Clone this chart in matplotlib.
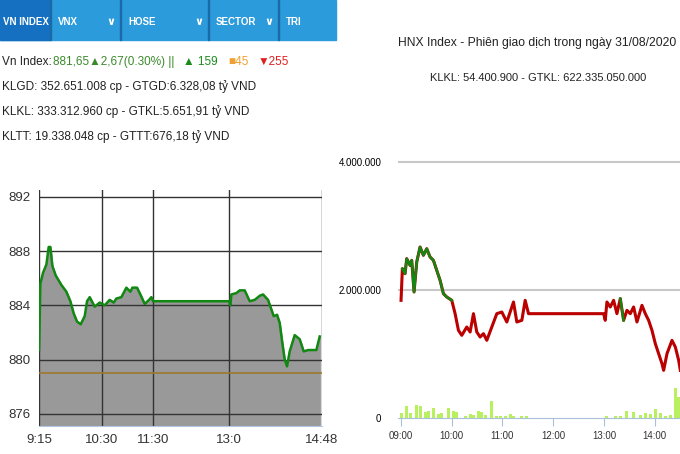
import numpy as np
import matplotlib
matplotlib.use("Agg")
import matplotlib.pyplot as plt
from matplotlib.patches import Rectangle

plt.rcParams['font.family'] = ['Liberation Sans', 'DejaVu Sans']

# ---------- data: VN Index (left), read as (pixel x, value) ----------
vn_zx = [118, 122, 130, 140, 147, 152, 158, 168, 185, 200, 212, 222, 232, 243, 255, 262, 270, 285, 300, 315, 330, 342, 350, 365,
         380, 392, 398, 412, 422, 435, 448, 455, 460, 688, 692, 695, 710, 720, 735, 750, 765, 780, 790, 805, 815, 822, 832, 840,
         848, 855, 862, 870, 885, 900, 912, 925, 950, 960]
vn_val = [880.7, 885.6, 886.4, 887.0, 888.3, 888.3, 886.9, 886.2, 885.5, 885.0, 884.3, 883.4, 882.8, 882.6, 883.2, 884.3, 884.6,
          883.9, 884.2, 884.0, 884.4, 884.2, 884.5, 884.6, 885.3, 885.0, 885.3, 885.3, 884.8, 884.1, 884.4, 884.6, 884.3, 884.3,
          884.0, 884.8, 884.9, 885.1, 885.1, 884.3, 884.4, 884.7, 884.8, 884.4, 883.7, 883.2, 883.3, 882.7, 881.2, 880.0, 879.5,
          880.6, 881.8, 881.5, 880.6, 880.7, 880.7, 881.7]
vn_pos = [x / 3 - 39.3 for x in vn_zx]
vn_ref = 879.0
vn_tick_pos = [0, 63, 114, 190, 283]
vn_tick_lbl = ["9:15", "10:30", "11:30", "13:0", "14:48"]
vn_yticks = [876, 880, 884, 888, 892]

# ---------- data: HNX (right) ----------
hnx_zx = [183, 187, 195, 200, 210, 215, 222, 230, 240, 250, 260, 270, 280, 290, 300, 310, 320, 335, 345, 355, 365, 380, 390, 400,
          410, 420, 430, 440, 455, 470, 485, 500, 510, 520, 530, 545, 555, 565, 790, 795, 800, 810, 820, 830, 840, 850, 860, 870,
          880, 890, 905, 915, 925, 935, 945, 955, 965, 970, 980, 995, 1005, 1015, 1020]
hnx_zy = [480, 385, 400, 355, 375, 360, 455, 365, 320, 345, 325, 350, 360, 390, 420, 460, 470, 480, 520, 570, 585, 560, 575, 520,
          575, 590, 580, 600, 560, 520, 515, 545, 515, 485, 545, 540, 480, 520, 520, 540, 485, 500, 480, 520, 475, 540, 510, 520,
          500, 545, 495, 520, 540, 570, 610, 640, 670, 690, 640, 600, 620, 660, 690]
hnx_t = [9 + (x - 183) / 152 for x in hnx_zx]
hnx_v = [(833 - y) / 192 * 1e6 for y in hnx_zy]
hnx_ref = 1.84e6
vol_zx = [185, 200, 212, 230, 240, 255, 265, 280, 295, 305, 325, 340, 350, 375, 390, 400, 415, 425, 435, 455, 470, 480, 495, 510,
          520, 545, 560, 800, 825, 840, 860, 880, 900, 915, 930, 945, 960, 975, 990, 1005, 1015]
vol_zy = [818, 797, 818, 793, 797, 815, 813, 803, 820, 818, 803, 812, 815, 828, 820, 823, 813, 815, 823, 783, 828, 826, 828, 820,
          828, 828, 828, 828, 828, 826, 813, 815, 823, 818, 820, 807, 818, 826, 823, 743, 770]
vol_t = [9 + (x - 183) / 152 for x in vol_zx]
vol_v = [(833 - y) / 192 * 1e6 for y in vol_zy]
hnx_xticks = [9, 10, 11, 12, 13, 14]
hnx_xlbl = ["09:00", "10:00", "11:00", "12:00", "13:00", "14:00"]
hnx_yticks = [0, 2e6, 4e6]
hnx_ylbl = ["0", "2.000.000", "4.000.000"]

W, H = 680, 454
fig = plt.figure(figsize=(6.8, 4.54), dpi=100)
fig.patch.set_facecolor("white")

def fx(px): return px / W
def fy(py): return 1 - py / H

# header bar
fig.patches.append(Rectangle((0, fy(40)), fx(336), 40 / H, transform=fig.transFigure, color="#2b9bdb", zorder=0))
fig.patches.append(Rectangle((0, fy(40)), fx(50), 40 / H, transform=fig.transFigure, color="#1670c2", zorder=1))
for sx in [50, 120, 208, 278]:
    fig.patches.append(Rectangle((fx(sx), fy(40)), fx(1), 40 / H, transform=fig.transFigure, color="#1a6aa8", zorder=2))
for tx, lbl in [(3, "VN INDEX"), (58, "VNX"), (128, "HOSE"), (216, "SECTOR"), (286, "TRI")]:
    fig.text(fx(tx), fy(22), lbl, color="white", fontsize=7, fontweight="bold", va="center")
for tx in [106, 194, 264]:
    fig.text(fx(tx), fy(22), "∨", color="white", fontsize=8, fontweight="bold", va="center", family="DejaVu Sans")

fs = 8.5
fam = ['Liberation Sans', 'DejaVu Sans']
fig.text(fx(2), fy(62), "Vn Index:", fontsize=fs, va="center", color="#222")
fig.text(fx(53), fy(62), "881,65▲2,67(0.30%) ||", fontsize=fs, va="center", color="#3a8a2a", family=fam)
fig.text(fx(183), fy(62), "▲ 159", fontsize=fs, va="center", color="#1a8a1a", family=fam)
fig.text(fx(228), fy(62), "■45", fontsize=fs, va="center", color="#f0a030", family=fam)
fig.text(fx(258), fy(62), "▼255", fontsize=fs, va="center", color="#e02020", family=fam)
fig.text(fx(2), fy(87), "KLGD: 352.651.008 cp - GTGD:6.328,08 tỷ VND", fontsize=fs, va="center", color="#222")
fig.text(fx(2), fy(112), "KLKL: 333.312.960 cp - GTKL:5.651,91 tỷ VND", fontsize=fs, va="center", color="#222")
fig.text(fx(2), fy(137), "KLTT: 19.338.048 cp - GTTT:676,18 tỷ VND", fontsize=fs, va="center", color="#222")

# left chart
axL = fig.add_axes([fx(39), fy(426), fx(322 - 39), (426 - 190) / H])
axL.set_facecolor("white")
axL.set_xlim(0, 283)
axL.set_ylim(875.1, 892.5)
axL.fill_between(vn_pos, vn_val, 875.1, color="#999999", zorder=1)
for yv in vn_yticks:
    axL.axhline(yv, color="#333333", lw=1, zorder=2)
for xv in vn_tick_pos:
    axL.axvline(xv, color="#333333", lw=1, zorder=2)
axL.axhline(vn_ref, color="#a07830", lw=1.2, zorder=3)
axL.plot(vn_pos, vn_val, color="#118811", lw=1.8, zorder=4)
axL.set_xticks(vn_tick_pos, vn_tick_lbl)
axL.set_yticks(vn_yticks)
for s in axL.spines.values():
    s.set_visible(False)
axL.spines["bottom"].set_visible(True)
axL.spines["bottom"].set_color("#b0c8e0")
axL.tick_params(length=0, labelsize=9.5, colors="#333", pad=6)

# right chart
fig.text(fx(537), fy(43), "HNX Index - Phiên giao dịch trong ngày 31/08/2020", fontsize=8.7, ha="center", va="center", color="#222")
fig.text(fx(538), fy(78), "KLKL: 54.400.900 - GTKL: 622.335.050.000", fontsize=8, ha="center", va="center", color="#222")
axR = fig.add_axes([fx(398), fy(418), fx(680 - 398), (418 - 155) / H])
axR.set_xlim(8.94, 14.5)
axR.set_ylim(0, 4e6 * (418 - 155) / (418 - 162))
for yv in hnx_yticks[1:]:
    axR.axhline(yv, color="#c8c8c8", lw=1.5, zorder=0)
axR.bar(vol_t, vol_v, width=0.06, color="#b8f060", zorder=1)
t = np.array(hnx_t); v = np.array(hnx_v)
above = v >= hnx_ref
axR.plot(t, v, color="#bb0000", lw=2.2, zorder=2)
gmask = above.copy()
gmask[1:] |= above[:-1]
axR.plot(t, np.where(gmask, v, np.nan), color="#118811", lw=1.8, zorder=3)
axR.set_xticks(hnx_xticks, hnx_xlbl)
axR.set_yticks(hnx_yticks, hnx_ylbl)
for s in ["top", "right", "left"]:
    axR.spines[s].set_visible(False)
axR.spines["bottom"].set_color("#a8c0d8")
axR.tick_params(axis="x", length=6, color="#a8c0d8", labelsize=7, labelcolor="#333")
axR.tick_params(axis="y", length=0, labelsize=7, pad=12)

fig.savefig("out.png", dpi=100)
